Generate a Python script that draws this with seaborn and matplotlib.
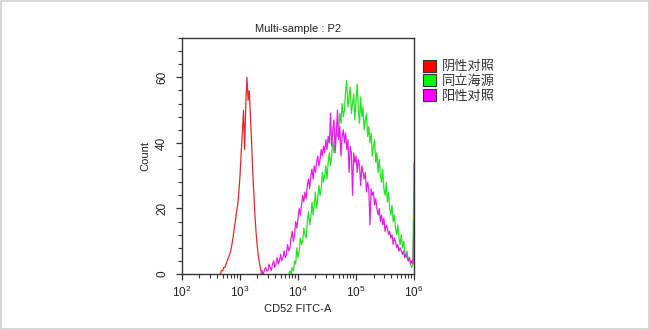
import numpy as np
import pandas as pd
import seaborn as sns
import matplotlib
matplotlib.use("Agg")
import matplotlib.pyplot as plt
from matplotlib.patches import Patch, Rectangle
from matplotlib.ticker import LogLocator, MultipleLocator, FixedLocator, NullFormatter

# Histogram bins on a log10 scale: each series starts at its own decade value,
# with a constant bin width in log10 units.
bin_step = 0.02

series_names = ["阴性对照", "同立海源", "阳性对照"]
series_colors = ["#e02a2a", "#22e622", "#e81ee8"]
legend_colors = ["#ff0000", "#00ff00", "#ff00ff"]

neg_start = 2.66
neg_counts = [0, 1, 1, 2, 2, 3, 4, 5, 6, 7, 9, 11, 14, 16, 19, 21, 25, 30, 37, 43,
              50, 38, 52, 60, 53, 56, 48, 40, 31, 24, 17, 12, 8, 5, 3, 1, 1, 0]

iso_start = 3.84
iso_counts = [0, 1, 0, 2, 1, 4, 3, 8, 5, 7, 11, 9, 10, 14, 12, 11, 16, 19, 15, 17,
              22, 18, 21, 25, 20, 23, 27, 24, 26, 31, 28, 30, 33, 29, 34, 37, 33, 36, 41, 37,
              40, 45, 42, 44, 49, 46, 52, 48, 50, 56, 59, 51, 54, 57, 49, 52, 55, 47, 53, 58,
              50, 46, 54, 48, 51, 44, 47, 49, 42, 45, 40, 43, 36, 39, 41, 34, 37, 31, 35, 30,
              28, 32, 26, 24, 28, 22, 25, 20, 18, 21, 16, 18, 14, 12, 15, 11, 9, 12, 8, 10,
              7, 5, 7, 4, 5, 3, 2, 3, 34]

pos_start = 3.36
pos_counts = [0, 1, 0, 1, 2, 1, 1, 3, 2, 1,
              3, 4, 2, 3, 5, 3, 4, 6, 4, 5,
              7, 5, 6, 9, 7, 8, 11, 13, 10, 12,
              16, 14, 17, 20, 18, 21, 24, 22, 25, 23,
              27, 29, 26, 30, 32, 29, 33, 31, 34, 36,
              33, 35, 38, 36, 39, 37, 41, 38, 42, 40,
              49, 39, 44, 47, 37, 43, 50, 41, 45, 36,
              42, 44, 40, 43, 38, 41, 31, 39, 37, 24,
              37, 34, 36, 31, 35, 33, 27, 33, 31, 29,
              31, 25, 28, 26, 15, 26, 24, 25, 21, 23,
              20, 18, 20, 16, 18, 15, 17, 13, 15, 14,
              12, 13, 11, 12, 9, 11, 10, 8, 9, 7,
              8, 7, 6, 7, 5, 6, 5, 4, 5, 3,
              4, 3, 16]


def to_frame(name, start, counts):
    exps = start + bin_step * np.arange(len(counts))
    return pd.DataFrame({"sample": name, "fitc": 10.0 ** exps, "count": counts})


frames = [
    to_frame(series_names[0], neg_start, neg_counts),
    to_frame(series_names[1], iso_start, iso_counts),
    to_frame(series_names[2], pos_start, pos_counts),
]

sns.set_style("ticks")
plt.rcParams["font.family"] = ["Liberation Sans", "Noto Sans CJK SC", "DejaVu Sans"]
plt.rcParams["axes.unicode_minus"] = False

fig = plt.figure(figsize=(6.5, 3.3), dpi=100)
ax = fig.add_axes([0.28, 0.1697, 0.357, 0.715])

for df, color in zip(frames, series_colors):
    sns.lineplot(data=df, x="fitc", y="count", ax=ax, color=color,
                 linewidth=0.9, legend=False, estimator=None)

ax.set_xscale("log")
ax.set_xlim(1e2, 1e6)
ax.set_ylim(0, 72)
ax.xaxis.set_major_locator(LogLocator(base=10, numticks=10))
ax.xaxis.set_minor_locator(LogLocator(base=10, subs=np.arange(2, 10), numticks=20))
ax.xaxis.set_minor_formatter(NullFormatter())
ax.yaxis.set_major_locator(FixedLocator([0, 20, 40, 60]))
ax.yaxis.set_minor_locator(MultipleLocator(4))

for side in ["left", "right", "top", "bottom"]:
    ax.spines[side].set_color("#333333")
    ax.spines[side].set_linewidth(1.0)

ax.tick_params(axis="both", which="major", direction="out", length=4, width=0.9,
               colors="#333333", labelsize=8.5, labelcolor="#222222")
ax.tick_params(axis="both", which="minor", direction="out", length=3, width=0.8,
               colors="#333333")
ax.tick_params(axis="y", which="major", pad=6)
for lab in ax.get_yticklabels():
    lab.set_rotation(90)
    lab.set_va("center")

ax.set_xlabel("CD52 FITC-A", fontsize=8, color="#222222", labelpad=3)
ax.set_ylabel("Count", fontsize=8, color="#222222", labelpad=4)
ax.set_title("Multi-sample : P2", fontsize=8, color="#222222", pad=4)

handles = [Patch(facecolor=c, edgecolor="#333333", linewidth=0.8) for c in legend_colors]
fig.legend(handles, series_names, loc="upper left", bbox_to_anchor=(0.643, 0.835),
           frameon=False, fontsize=9.5, handlelength=1.0, handleheight=1.0,
           handletextpad=0.4, labelspacing=0.1, borderaxespad=0.0,
           labelcolor="#333333")

fig.patches.append(Rectangle((0.002, 0.003), 0.996, 0.994, transform=fig.transFigure,
                             fill=False, edgecolor="#d0d0d0", linewidth=1.2))

fig.savefig("out.png", dpi=100)
